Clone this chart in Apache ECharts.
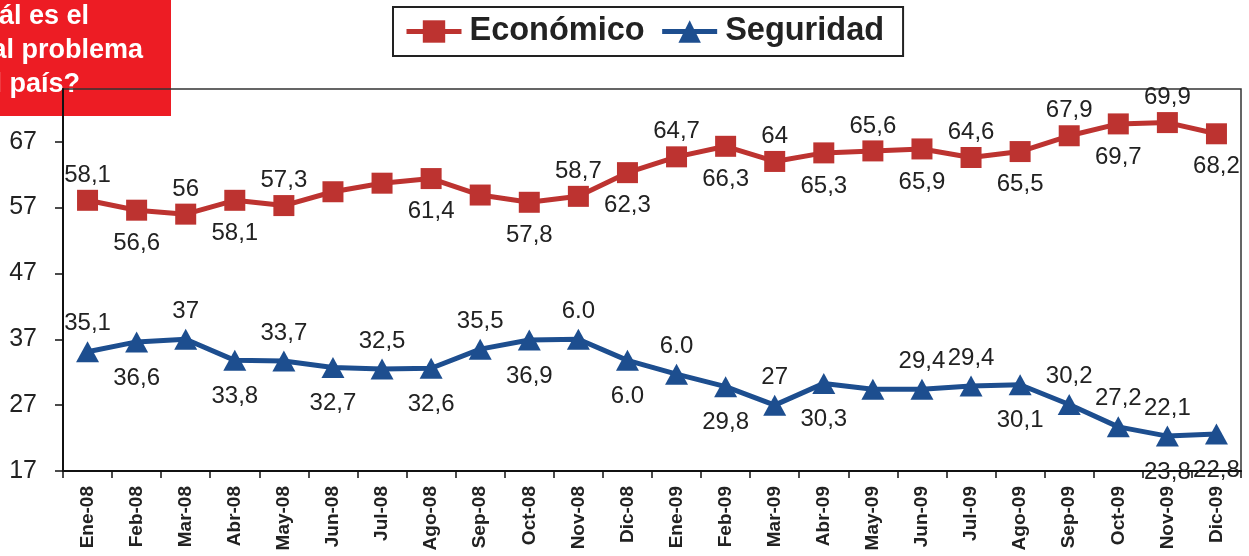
<!DOCTYPE html>
<html>
<head>
<meta charset="utf-8">
<script src="https://cdn.jsdelivr.net/npm/echarts@6/dist/echarts.min.js"></script>
<style>
  html, body { margin: 0; padding: 0; background: #fff; }
  #chart { width: 1249px; height: 556px; }
</style>
</head>
<body>
<div id="chart"></div>
<script>
const categories = ['Ene-08', 'Feb-08', 'Mar-08', 'Abr-08', 'May-08', 'Jun-08', 'Jul-08', 'Ago-08', 'Sep-08', 'Oct-08', 'Nov-08', 'Dic-08',
  'Ene-09', 'Feb-09', 'Mar-09', 'Abr-09', 'May-09', 'Jun-09', 'Jul-09', 'Ago-09', 'Sep-09', 'Oct-09', 'Nov-09', 'Dic-09']
const economico = [58.1, 56.6, 56, 58.1, 57.3, 59.4, 60.7, 61.4, 58.9, 57.8, 58.7, 62.3,
  64.7, 66.3, 64, 65.3, 65.6, 65.9, 64.6, 65.5, 67.9, 69.7, 69.9, 68.2]
const seguridad = [35.1, 36.6, 37, 33.8, 33.7, 32.7, 32.5, 32.6, 35.5, 36.9, 37.0, 33.8,
  31.7, 29.8, 27, 30.3, 29.4, 29.4, 29.9, 30.1, 27.1, 23.7, 22.3, 22.6]
// texts printed above / below each point, as in the original
const economicoTop = ['58,1', '', '56', '', '57,3', '', '', '', '', '', '58,7', '',
  '64,7', '', '64', '', '65,6', '', '64,6', '', '67,9', '', '69,9', '']
const economicoBottom = ['', '56,6', '', '58,1', '', '', '', '61,4', '', '57,8', '', '62,3',
  '', '66,3', '', '65,3', '', '65,9', '', '65,5', '', '69,7', '', '68,2']
const seguridadTop = ['35,1', '', '37', '', '33,7', '', '32,5', '', '35,5', '', '6.0', '',
  '6.0', '', '27', '', '', '29,4', '29,4', '', '30,2', '27,2', '22,1', '']
const seguridadBottom = ['', '36,6', '', '33,8', '', '32,7', '', '32,6', '', '36,9', '', '6.0',
  '', '29,8', '', '30,3', '', '', '', '30,1', '', '', '23,8', '22,8']
const yTicks = [17, 27, 37, 47, 57, 67]
const titleLines = ['¿Cuál es el', 'principal problema', 'del país?']

const FONT = '"Liberation Sans", Arial, sans-serif'
const TITLE_FONT = 'bold 27px ' + FONT

function withLabels(values, top, bottom, lineHeight) {
  return values.map((v, i) => {
    const hasText = top[i] !== '' || bottom[i] !== ''
    return {
      value: v,
      label: {
        show: hasText,
        formatter: (top[i] || ' ') + '\n \n' + (bottom[i] || ' '),
        lineHeight: lineHeight
      }
    }
  })
}

const chart = echarts.init(document.getElementById('chart'))
chart.setOption({
  backgroundColor: '#fff',
  animation: false,
  graphic: [
    {
      type: 'rect',
      z: -10,
      shape: { x: 0, y: 0, width: 171, height: 116 },
      style: { fill: '#ED1C24' }
    },
    {
      type: 'text',
      z: -9,
      style: { text: titleLines[0], x: 89, y: 17, align: 'right', verticalAlign: 'middle', fill: '#fff', font: TITLE_FONT }
    },
    {
      type: 'text',
      z: -9,
      style: { text: titleLines[1], x: 143, y: 51, align: 'right', verticalAlign: 'middle', fill: '#fff', font: TITLE_FONT }
    },
    {
      type: 'text',
      z: -9,
      style: { text: titleLines[2], x: 80, y: 85, align: 'right', verticalAlign: 'middle', fill: '#fff', font: TITLE_FONT }
    }
  ],
  legend: {
    left: 393,
    top: 7,
    padding: [8, 19, 8, 11],
    itemGap: 15,
    itemWidth: 55,
    itemHeight: 28,
    borderColor: '#222',
    borderWidth: 2,
    lineStyle: { width: 5 },
    textStyle: {
      fontFamily: FONT,
      fontSize: 32.5,
      fontWeight: 'bold',
      color: '#222',
      padding: [0, 0, 0, 3]
    },
    data: ['Económico', 'Seguridad']
  },
  grid: {
    left: 63,
    right: 8,
    top: 89,
    bottom: 85,
    show: true,
    borderColor: '#333',
    borderWidth: 1.5,
    containLabel: false
  },
  xAxis: {
    type: 'category',
    boundaryGap: true,
    data: categories,
    axisLine: { lineStyle: { color: '#111', width: 2 } },
    axisTick: { show: true, length: 7, lineStyle: { color: '#111', width: 1.5 } },
    axisLabel: {
      interval: 0,
      rotate: 90,
      margin: 15,
      fontFamily: FONT,
      fontSize: 19,
      fontWeight: 'bold',
      color: '#222'
    },
    splitLine: { show: false }
  },
  yAxis: {
    type: 'value',
    min: 17,
    max: 75,
    axisLine: { show: true, lineStyle: { color: '#111', width: 2 } },
    axisTick: { show: true, length: 8, customValues: yTicks, lineStyle: { color: '#111', width: 1.5 } },
    axisLabel: {
      customValues: yTicks,
      margin: 26,
      fontFamily: FONT,
      fontSize: 25,
      color: '#222'
    },
    splitLine: { show: false }
  },
  series: [
    {
      name: 'Económico',
      type: 'line',
      symbol: 'rect',
      symbolSize: 21,
      color: '#BD3330',
      lineStyle: { width: 5, color: '#BD3330' },
      itemStyle: { color: '#BD3330' },
      label: {
        position: 'inside',
        offset: [0, 4],
        fontFamily: FONT,
        fontSize: 24,
        color: '#222'
      },
      data: withLabels(economico, economicoTop, economicoBottom, 29)
    },
    {
      name: 'Seguridad',
      type: 'line',
      symbol: 'triangle',
      symbolSize: [23, 21],
      color: '#1D4E8F',
      lineStyle: { width: 5, color: '#1D4E8F' },
      itemStyle: { color: '#1D4E8F' },
      label: {
        position: 'inside',
        offset: [0, 4],
        fontFamily: FONT,
        fontSize: 24,
        color: '#222'
      },
      data: withLabels(seguridad, seguridadTop, seguridadBottom, 32)
    }
  ]
})
</script>
</body>
</html>
